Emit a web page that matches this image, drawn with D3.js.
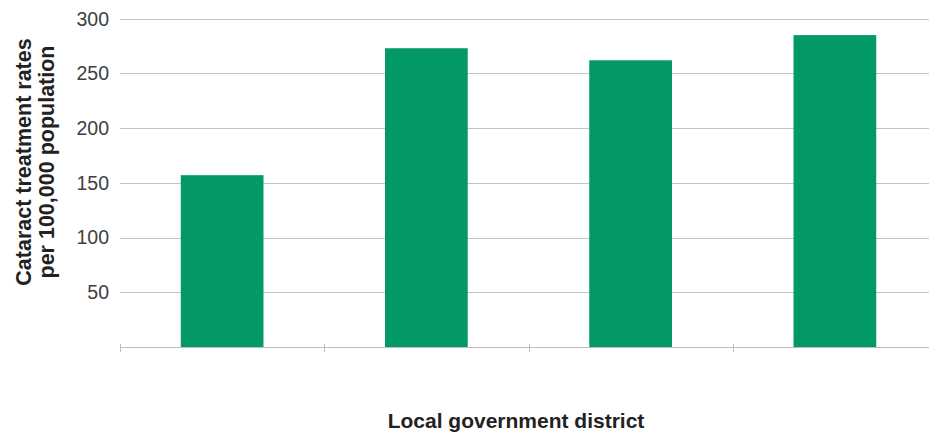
<!DOCTYPE html>
<html>
<head>
<meta charset="utf-8">
<script src="https://cdn.jsdelivr.net/npm/d3@7"></script>
<style>
  html, body { margin: 0; padding: 0; background: #fff; }
  svg { display: block; font-family: "Liberation Sans", Arial, Helvetica, sans-serif; }
</style>
</head>
<body>
<svg id="chart" width="929" height="432"></svg>
<script>
// Cataract treatment rates per 100,000 population by local government district
const districts = ["District A", "District B", "District C", "District D"];
const rates = [157, 273, 262, 285];
const yTicks = [50, 100, 150, 200, 250, 300];

const svg = d3.select("#chart");
const plot = { left: 120, right: 937, top: 18.7, bottom: 347 };

const x = d3.scaleBand().domain(districts).range([plot.left, plot.right]).padding(0);
const y = d3.scaleLinear().domain([0, 300]).range([plot.bottom, plot.top]);

// horizontal gridlines
svg.append("g")
  .selectAll("line")
  .data(yTicks)
  .join("line")
  .attr("x1", plot.left)
  .attr("x2", 929)
  .attr("y1", d => Math.round(y(d)) + 0.5)
  .attr("y2", d => Math.round(y(d)) + 0.5)
  .attr("stroke", "#c4c4c4")
  .attr("stroke-width", 1.2);

// y tick labels
svg.append("g")
  .selectAll("text")
  .data(yTicks)
  .join("text")
  .attr("x", 109)
  .attr("y", d => y(d))
  .attr("dy", "0.35em")
  .attr("text-anchor", "end")
  .attr("font-size", 19.5)
  .attr("fill", "#404040")
  .text(d => d);

// bars
const barFrac = 0.405;
svg.append("g")
  .selectAll("rect")
  .data(districts)
  .join("rect")
  .attr("x", d => x(d) + x.bandwidth() * (1 - barFrac) / 2)
  .attr("width", x.bandwidth() * barFrac)
  .attr("y", (d, i) => y(rates[i]))
  .attr("height", (d, i) => y(0) - y(rates[i]))
  .attr("fill", "#029966");

// category axis with tick marks between districts, no labels
const xAxis = svg.append("g");
xAxis.append("line")
  .attr("x1", plot.left).attr("x2", 929)
  .attr("y1", plot.bottom + 0.5).attr("y2", plot.bottom + 0.5)
  .attr("stroke", "#bdbdbd").attr("stroke-width", 1.2);
const boundaries = districts.map(d => x(d)).concat([x(districts[districts.length - 1]) + x.bandwidth()]);
xAxis.selectAll("line.tick")
  .data(boundaries)
  .join("line")
  .attr("class", "tick")
  .attr("x1", d => Math.round(d) + 0.5)
  .attr("x2", d => Math.round(d) + 0.5)
  .attr("y1", plot.bottom - 3)
  .attr("y2", plot.bottom + 5)
  .attr("stroke", "#bdbdbd");

// axis titles
svg.append("text")
  .attr("transform", "translate(31,162) rotate(-90)")
  .attr("text-anchor", "middle")
  .attr("font-size", 21.5)
  .attr("font-weight", "bold")
  .attr("fill", "#222")
  .selectAll("tspan")
  .data(["Cataract treatment rates", "per 100,000 population"])
  .join("tspan")
  .attr("x", 0)
  .attr("dy", (d, i) => i === 0 ? 0 : 23)
  .text(d => d);

svg.append("text")
  .attr("x", 516)
  .attr("y", 428)
  .attr("text-anchor", "middle")
  .attr("font-size", 21)
  .attr("font-weight", "bold")
  .attr("fill", "#222")
  .text("Local government district");
</script>
</body>
</html>
